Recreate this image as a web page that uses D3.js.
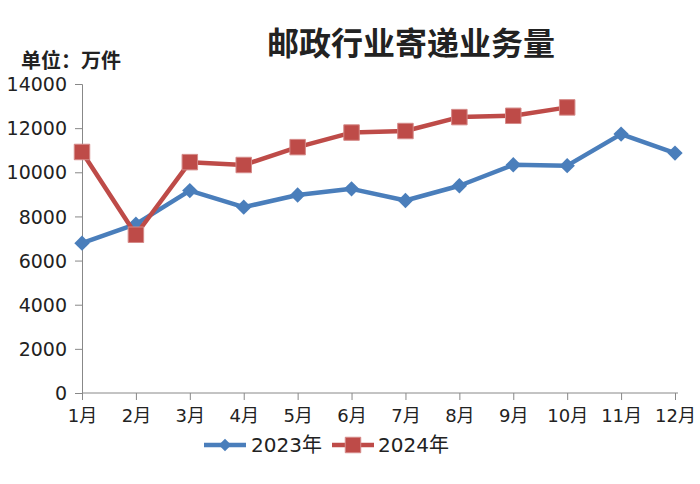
<!DOCTYPE html>
<html><head><meta charset="utf-8">
<script src="https://cdn.jsdelivr.net/npm/d3@7"></script>
<style>
html,body{margin:0;padding:0;background:#fff;}
svg text{font-family:"DejaVu Sans","Noto Sans CJK SC",sans-serif;fill:#222;}
</style></head><body>
<svg id="c" width="700" height="484"></svg>
<script>
const months = ["1月","2月","3月","4月","5月","6月","7月","8月","9月","10月","11月","12月"];
const values2023 = [6790, 7650, 9170, 8420, 8970, 9250, 8720, 9390, 10340, 10300, 11730, 10870];
const values2024 = [10920, 7170, 10460, 10330, 11140, 11800, 11870, 12500, 12560, 12940];
const yTicks = [0, 2000, 4000, 6000, 8000, 10000, 12000, 14000];
const seriesNames = ["2023年", "2024年"];
const titleText = "邮政行业寄递业务量";
const unitText = "单位：万件";

const svg = d3.select("#c");
const mLeft = 82, mRight = 675, mTop = 84, mBottom = 393;
const x = d3.scalePoint().domain(months).range([mLeft, mRight]);
const y = d3.scaleLinear().domain([0, 14000]).range([mBottom, mTop]);
const colors = ["#4a7ebb", "#be4b48"];

// title
svg.append("text").attr("x", 411).attr("y", 55).attr("text-anchor", "middle")
  .style("font-family", "'Noto Sans CJK SC',sans-serif").style("font-weight", "bold")
  .style("font-size", "32px").text(titleText);
svg.append("text").attr("x", 21).attr("y", 68)
  .style("font-family", "'Noto Sans CJK SC',sans-serif").style("font-weight", "bold")
  .style("font-size", "20px").text(unitText);

// y axis
const yAxis = svg.append("g").attr("transform", `translate(${mLeft},0)`)
  .call(d3.axisLeft(y).tickValues(yTicks).tickFormat(d3.format("d")).tickSize(7).tickPadding(8));
yAxis.selectAll("text").style("font-size", "19px").attr("dy", "0.35em");
yAxis.selectAll("line,path").attr("stroke", "#888");

// x axis
const xAxis = svg.append("g").attr("transform", `translate(0,${mBottom})`)
  .call(d3.axisBottom(x).tickSize(7).tickPadding(9));
xAxis.select(".domain").attr("d", `M${mLeft},0H${mRight + 3}`);
xAxis.selectAll("text").style("font-size", "18px");
xAxis.selectAll("line,path").attr("stroke", "#888");

const line = d3.line().x((d, i) => x(months[i])).y(d => y(d));
const diamond = d3.symbol().type(d3.symbolDiamond2).size(150);
const diamondSmall = d3.symbol().type(d3.symbolDiamond2).size(100);
const square = d3.symbol().type(d3.symbolSquare).size(240);

// 2023
svg.append("path").datum(values2023).attr("d", line).attr("fill", "none")
  .attr("stroke", colors[0]).attr("stroke-width", 4.5).attr("stroke-linejoin", "round");
svg.append("g").selectAll("path").data(values2023).join("path")
  .attr("d", diamond).attr("fill", colors[0])
  .attr("transform", (d, i) => `translate(${x(months[i])},${y(d)})`);

// 2024
svg.append("path").datum(values2024).attr("d", line).attr("fill", "none")
  .attr("stroke", colors[1]).attr("stroke-width", 4.5).attr("stroke-linejoin", "round");
svg.append("g").selectAll("path").data(values2024).join("path")
  .attr("d", square).attr("fill", colors[1]).attr("stroke", "#d58a88").attr("stroke-width", 1)
  .attr("transform", (d, i) => `translate(${x(months[i])},${y(d)})`);

// legend
const lg = svg.append("g").attr("transform", "translate(0,445)");
lg.append("line").attr("x1", 204).attr("x2", 246).attr("stroke", colors[0]).attr("stroke-width", 4.5);
lg.append("path").attr("d", diamondSmall).attr("fill", colors[0]).attr("transform", "translate(225,0)");
lg.append("text").attr("x", 251).attr("y", 0).attr("dy", "0.35em").style("font-size", "20px").text(seriesNames[0]);
lg.append("line").attr("x1", 332).attr("x2", 374).attr("stroke", colors[1]).attr("stroke-width", 4.5);
lg.append("path").attr("d", square).attr("fill", colors[1]).attr("stroke", "#d58a88").attr("transform", "translate(353,0)");
lg.append("text").attr("x", 378).attr("y", 0).attr("dy", "0.35em").style("font-size", "20px").text(seriesNames[1]);
</script></body></html>
